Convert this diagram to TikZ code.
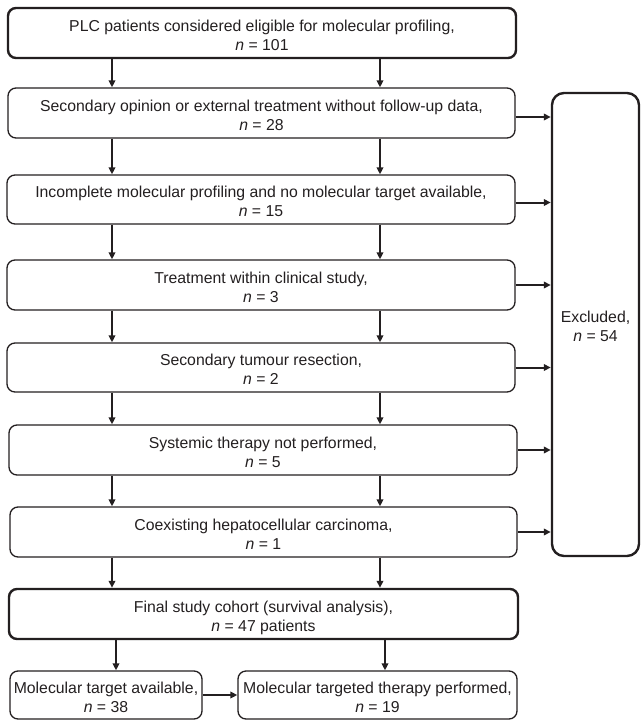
\documentclass[tikz,border=0pt]{standalone}
\usepackage{fontspec}
\setmainfont{Liberation Sans}
\usetikzlibrary{arrows.meta}
\definecolor{ink}{RGB}{35,31,32}
\begin{document}
\begin{tikzpicture}[x=1pt,y=-1pt,
  font=\fontsize{15.8}{19}\selectfont,
  box/.style={draw=ink, text=ink, line width=1.3pt, rounded corners=8pt, align=center, inner sep=0pt, text height=34pt, text depth=0pt},
  bbox/.style={box, line width=2.4pt},
  arr/.style={draw=ink, line width=2pt, -{Triangle[length=7pt,width=6.5pt]}}]
\useasboundingbox (0,0) rectangle (641,720);
\coordinate (L) at (112,0);
\coordinate (R) at (380,0);
\coordinate (L2) at (116,0);
\coordinate (R2) at (385,0);

\node[bbox, minimum width=508pt, minimum height=50pt] (b1) at (262,33) {PLC patients considered eligible for molecular profiling,\\ \textit{n} = 101};
\node[box, minimum width=507pt, minimum height=50pt] (b2) at (261.5,113) {Secondary opinion or external treatment without follow-up data,\\ \textit{n} = 28};
\node[box, minimum width=508pt, minimum height=49pt] (b3) at (261,199.5) {Incomplete molecular profiling and no molecular target available,\\ \textit{n} = 15};
\node[box, minimum width=508pt, minimum height=50pt] (b4) at (261,285) {Treatment within clinical study,\\ \textit{n} = 3};
\node[box, minimum width=508pt, minimum height=49pt] (b5) at (261,367.5) {Secondary tumour resection,\\ \textit{n} = 2};
\node[box, minimum width=508pt, minimum height=50pt] (b6) at (263,450) {Systemic therapy not performed,\\ \textit{n} = 5};
\node[box, minimum width=507pt, minimum height=50pt] (b7) at (263.5,532) {Coexisting hepatocellular carcinoma,\\ \textit{n} = 1};
\node[bbox, minimum width=509pt, minimum height=50pt] (fin) at (263.5,614) {Final study cohort (survival analysis),\\ \textit{n} = 47 patients};
\node[box, minimum width=192pt, minimum height=48pt] (bl) at (106,695) {Molecular target available,\\ \textit{n} = 38};
\node[box, minimum width=279pt, minimum height=48pt] (br) at (377.5,695) {Molecular targeted therapy performed,\\ \textit{n} = 19};
\node[bbox, rounded corners=12pt, minimum width=87pt, minimum height=463pt] (ex) at (595.5,324.5) {Excluded,\\ \textit{n} = 54};

\foreach \a/\b in {b1/b2,b2/b3,b3/b4,b4/b5,b5/b6,b6/b7,b7/fin}{
  \draw[arr] (\a.south -| L) -- (\b.north -| L);
  \draw[arr] (\a.south -| R) -- (\b.north -| R);
}
\draw[arr] (fin.south -| L2) -- (bl.north -| L2);
\draw[arr] (fin.south -| R2) -- (br.north -| R2);
\draw[arr] (bl.east) -- (br.west);

\draw[arr] ([yshift=-4pt]b2.east) -- ([yshift=-4pt]b2.east -| ex.west);
\draw[arr] ([yshift=-3pt]b3.east) -- ([yshift=-3pt]b3.east -| ex.west);
\foreach \a in {b4,b5,b6,b7}{
  \draw[arr] (\a.east) -- (\a.east -| ex.west);
}
\end{tikzpicture}
\end{document}
